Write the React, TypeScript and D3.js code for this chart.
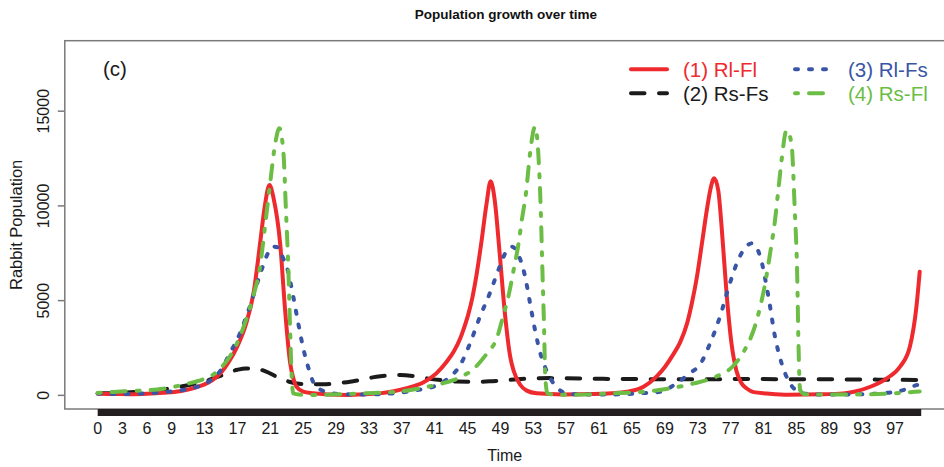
import React from "react";
import * as d3 from "d3";

// Simulated rabbit population for four resource/fox scenarios, as [time, population].
const rlFl: [number, number][] = [
  [0, 100], [2, 70], [4, 65], [6, 90], [8, 140], [10, 220], [11, 300], [12, 430], [13, 580],
  [14, 820], [15, 1200], [16, 1800], [17, 2600], [18, 3700], [19, 5500], [19.75, 8000],
  [20.3, 9900], [20.9, 11100], [21.4, 10400], [22.2, 8000], [22.8, 4500], [23.4, 1750],
  [23.8, 900], [24.2, 450], [25, 200], [26.2, 110], [28, 50], [30.3, 25], [32, 50],
  [34.3, 105], [36, 220], [37.6, 380], [39.6, 680], [41.2, 1160], [42.5, 1800], [43.3, 2300],
  [44.1, 3000], [44.6, 3600], [45.1, 4300], [45.6, 5200], [46.1, 6400], [46.65, 8000],
  [47.3, 10100], [47.8, 11300], [48.3, 10300], [48.9, 7500], [49.5, 4500], [50.2, 2000],
  [50.6, 1300], [51.4, 560], [52.2, 250], [53.4, 110], [56.6, 50], [60.3, 70], [62.5, 110],
  [64.4, 190], [66.4, 454], [68, 1000], [69, 1500], [70, 2150], [70.85, 2800], [71.7, 3800],
  [72.3, 4900], [72.9, 6260], [73.5, 8000], [74.1, 9780], [74.6, 11000], [75, 11460],
  [75.5, 10800], [75.9, 8900], [76.5, 5400], [77.1, 2745], [77.7, 1300], [78.3, 650],
  [79, 350], [79.8, 170], [81.4, 100], [84, 30], [87.9, 53], [90.7, 105], [92, 190],
  [94, 454], [96, 900], [97.6, 1510], [98.8, 2570], [99.6, 4680], [100, 6530],
];

const rsFs: [number, number][] = [
  [0, 100], [2, 120], [4, 160], [6, 230], [8, 317], [10, 454], [12, 640], [13, 740],
  [14, 880], [15, 1040], [16, 1220], [17, 1350], [18, 1420], [19, 1410], [19.5, 1390],
  [20.5, 1250], [21.8, 980], [22.5, 850], [23.3, 720], [24.2, 630], [25.5, 590], [27.4, 580],
  [29, 630], [30.7, 720], [32.3, 850], [33.9, 980], [35.5, 1050], [36.8, 1070], [38.5, 1010],
  [40, 900], [41.8, 800], [43.7, 730], [46.5, 720], [48, 750], [49.8, 808], [51.5, 860],
  [53, 900], [55, 910], [57, 900], [60, 880], [65, 860], [70, 850], [75, 855], [80, 860],
  [85, 850], [90, 845], [95, 830], [100, 808],
];

const rlFs: [number, number][] = [
  [0, 100], [2, 75], [4, 80], [6, 110], [8, 170], [10, 260], [12, 440], [13, 600], [14, 880],
  [15, 1350], [16, 2150], [17.3, 3270], [18.5, 4680], [19.8, 6440], [20.6, 7400],
  [21.3, 7850], [22, 7800], [22.5, 7300], [23, 6790], [23.8, 5200], [24.4, 3800], [25, 2500],
  [25.6, 1500], [26.2, 720], [27, 330], [27.9, 180], [29, 80], [31, 50], [33, 50], [35, 80],
  [37, 150], [38.8, 280], [40.8, 454], [42.5, 850], [44.1, 1600], [45.3, 2745], [46.5, 4150],
  [47.7, 5385], [48.9, 6790], [49.7, 7600], [50.4, 7850], [51.2, 7400], [52, 6260],
  [52.6, 4860], [53.2, 3450], [53.8, 2300], [54.6, 1300], [55.8, 450], [57, 110], [58.5, 50],
  [61, 40], [64, 60], [66, 110], [68.4, 190], [70.4, 630], [72, 1160], [73.3, 1650],
  [74.5, 2745], [75.7, 4150], [76.9, 5910], [78.1, 7320], [79.6, 8025], [80.6, 7320],
  [81.6, 5200], [82.4, 3090], [83.2, 1690], [84, 800], [85, 250], [86, 90], [88, 40],
  [92, 50], [95.2, 105], [98, 280], [99.6, 540], [100, 580],
];

const rsFl: [number, number][] = [
  [0, 130], [2, 180], [4, 230], [6, 270], [8, 350], [10, 520], [11, 620], [12, 730],
  [13, 880], [14, 1080], [15.3, 1600], [16, 2000], [16.9, 2700], [17.9, 3800], [18.9, 5200],
  [19.75, 6790], [20.35, 8900], [21, 11280], [21.6, 13300], [22.1, 14100], [22.6, 12780],
  [22.9, 9780], [23.2, 6620], [23.4, 3620], [23.6, 980], [23.8, 100], [24.5, 40], [26, 20],
  [28.3, 40], [32.3, 105], [36.4, 190], [39.2, 370], [41.6, 600], [43.3, 800], [44.5, 1050],
  [45.5, 1300], [46.5, 1750], [47.5, 2300], [48.5, 2950], [49.3, 4150], [49.95, 5200],
  [50.6, 6620], [51.2, 8025], [51.6, 9260], [52.1, 10670], [52.6, 12780], [53.2, 14180],
  [53.6, 12780], [53.9, 9780], [54.1, 6620], [54.3, 3620], [54.45, 980], [54.7, 120],
  [55.5, 40], [58, 30], [62.3, 105], [66.4, 190], [69.6, 370], [72.5, 630], [75.3, 1000],
  [77.3, 1550], [78.7, 2390], [79.8, 3450], [80.6, 4680], [81.2, 5910], [81.8, 7500],
  [82.4, 9260], [82.8, 10840], [83.2, 12420], [83.8, 14000], [84.4, 13300], [84.8, 9780],
  [85.1, 6260], [85.25, 2745], [85.45, 280], [86, 60], [88, 40], [92, 50], [95, 70],
  [97, 110], [99.4, 190], [100, 210],
];

const timeTicks = [0, 3, 6, 9, 13, 17, 21, 25, 29, 33, 37, 41, 45, 49, 53, 57, 61, 65, 69, 73, 77, 81, 85, 89, 93, 97];
const popTicks = [0, 5000, 10000, 15000];

const seriesNames = ["(1) Rl-Fl", "(2) Rs-Fs", "(3) Rl-Fs", "(4) Rs-Fl"];
const seriesColors = ["#EE2A2E", "#1B1B1B", "#3A55A6", "#6CBD45"];
const seriesDash = ["none", "13.5,14.5", "3,11", "3,11,14,11"];

const W = 944;
const H = 467;
const plot = { left: 64.8, right: 952.6, top: 40.7, bottom: 409 };
const FONT = "'Liberation Sans', Arial, Helvetica, sans-serif";

export default function App() {
  const x = d3.scaleLinear().domain([-4, 104]).range([plot.left, plot.right]);
  const y = d3.scaleLinear().domain([-720, 18720]).range([plot.bottom, plot.top]);

  const line = d3
    .line<[number, number]>()
    .x((d) => x(d[0]))
    .y((d) => y(d[1]))
    .curve(d3.curveMonotoneX);

  const data = [rlFl, rsFs, rlFs, rsFl];
  // draw order: dashed black underneath, then red, blue, green
  const drawOrder = [1, 0, 2, 3];

  const legendRows = [
    { idx: 0, col: 0, row: 0 },
    { idx: 1, col: 0, row: 1 },
    { idx: 2, col: 1, row: 0 },
    { idx: 3, col: 1, row: 1 },
  ];
  const legendCols = [
    { x1: 631, x2: 667, tx: 683 },
    { x1: 795, x2: 831, tx: 848 },
  ];
  const legendRowY = [69.3, 93.3];

  return (
    <svg
      width={W}
      height={H}
      style={{ position: "absolute", left: 0, top: 0, background: "#fff" }}
      fontFamily={FONT}
    >
      <defs>
        <clipPath id="plot-area">
          <rect x={plot.left} y={plot.top} width={plot.right - plot.left} height={plot.bottom - plot.top} />
        </clipPath>
      </defs>
      <rect x={0} y={0} width={W} height={H} fill="#fff" />

      <text x={506} y={18.5} textAnchor="middle" fontSize={13.5} fontWeight="bold" fill="#111">
        Population growth over time
      </text>

      {/* series */}
      <g clipPath="url(#plot-area)">
        {drawOrder.map((i) => (
          <path
            key={i}
            d={line(data[i]) || ""}
            fill="none"
            stroke={seriesColors[i]}
            strokeWidth={4}
            strokeDasharray={seriesDash[i]}
            strokeLinecap="round"
            strokeLinejoin="round"
          />
        ))}
      </g>

      {/* frame */}
      <rect
        x={plot.left}
        y={plot.top}
        width={plot.right - plot.left}
        height={plot.bottom - plot.top}
        fill="none"
        stroke="#7a7a7a"
        strokeWidth={1.5}
      />

      {/* y axis */}
      {popTicks.map((t) => (
        <g key={t}>
          <line x1={plot.left} x2={plot.left - 7} y1={y(t)} y2={y(t)} stroke="#7a7a7a" strokeWidth={1.5} />
          <text
            transform={`translate(48.5,${y(t)}) rotate(-90)`}
            textAnchor="middle"
            fontSize={16}
            fill="#1a1a1a"
          >
            {t}
          </text>
        </g>
      ))}
      <text
        transform={`translate(22,${(plot.top + plot.bottom) / 2}) rotate(-90)`}
        textAnchor="middle"
        fontSize={16.5}
        fill="#1a1a1a"
      >
        Rabbit Population
      </text>

      {/* x axis: dense ticks form a solid band */}
      <rect x={x(0)} y={plot.bottom} width={x(100) - x(0) + 1.5} height={7} fill="#231F20" />
      {timeTicks.map((t) => (
        <text key={t} x={x(t)} y={434} textAnchor="middle" fontSize={16} fill="#1a1a1a">
          {t}
        </text>
      ))}
      <text x={(plot.left + plot.right) / 2 - 4} y={461} textAnchor="middle" fontSize={16} fill="#1a1a1a">
        Time
      </text>

      <text x={103} y={75.5} fontSize={20.5} fill="#1a1a1a">
        (c)
      </text>

      {/* legend */}
      {legendRows.map(({ idx, col, row }) => {
        const c = legendCols[col];
        const ly = legendRowY[row];
        return (
          <g key={idx}>
            <line
              x1={c.x1}
              x2={c.x2}
              y1={ly}
              y2={ly}
              stroke={seriesColors[idx]}
              strokeWidth={4}
              strokeDasharray={seriesDash[idx]}
              strokeLinecap="round"
            />
            <text x={c.tx} y={ly + 7.5} fontSize={20.5} fill={seriesColors[idx]}>
              {seriesNames[idx]}
            </text>
          </g>
        );
      })}
    </svg>
  );
}
